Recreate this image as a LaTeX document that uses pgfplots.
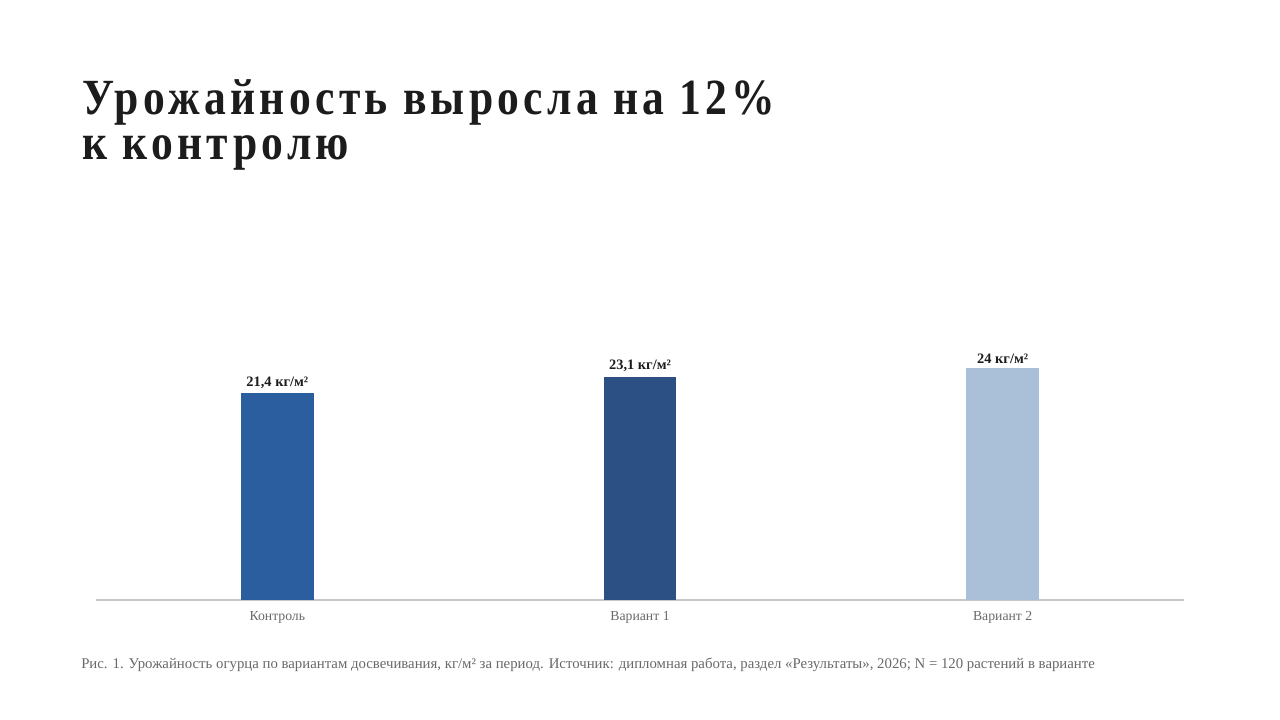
\documentclass[border=0pt]{standalone}
\usepackage{fontspec}
\setmainfont{Liberation Serif}
\newfontfamily\titlefont{Liberation Serif}[FakeStretch=0.86,LetterSpace=8.5]
\usepackage{pgfplots}
\pgfplotsset{compat=1.18}

\definecolor{barA}{RGB}{43,94,159}
\definecolor{barB}{RGB}{44,80,131}
\definecolor{barC}{RGB}{170,192,217}
\definecolor{inkdark}{RGB}{28,28,28}
\definecolor{inkgray}{RGB}{105,105,105}
\definecolor{basegray}{RGB}{200,200,200}

\begin{document}
\begin{tikzpicture}
  % page frame, 1280 x 720 px (1px = 0.75pt)
  \useasboundingbox (0pt,0pt) rectangle (960pt,540pt);
  \fill[white] (0pt,0pt) rectangle (960pt,540pt);

  % title
  \node[anchor=base west, inner sep=0pt, text=inkdark, text depth=0pt,
        font=\titlefont\bfseries\fontsize{38}{38}\selectfont] at (61.5pt,453.75pt) {Урожайность выросла на 12\%};
  \node[anchor=base west, inner sep=0pt, text=inkdark, text height=26pt,
        font=\titlefont\bfseries\fontsize{38}{38}\selectfont] at (61.5pt,420pt) {к контролю};

  \begin{axis}[
      at={(72pt,90pt)}, anchor=south west,
      scale only axis,
      width=816pt, height=217.5pt,
      xmin=-0.5, xmax=2.5,
      ymin=0, ymax=30,
      axis x line=bottom,
      axis y line=none,
      x axis line style={-, draw=basegray, line width=1.5pt},
      xtick={0,1,2},
      xticklabels={Контроль, Вариант 1, Вариант 2},
      xtick style={draw=none},
      xticklabel style={font=\fontsize{10.3}{12}\selectfont, text=inkgray, yshift=-1pt},
      ytick=\empty,
      ybar, bar width=0.2, bar shift=0pt,
      /pgf/number format/assume math mode=true,
      /pgf/number format/use comma,
      nodes near coords={\pgfmathprintnumber{\pgfplotspointmeta}~кг/м²},
      every node near coord/.append style={font=\bfseries\fontsize{10.8}{12}\selectfont, text=inkdark, yshift=0pt},
      clip=false,
    ]
    \addplot[fill=barA, draw=none] coordinates {(0,21.4)};
    \addplot[fill=barB, draw=none] coordinates {(1,23.1)};
    \addplot[fill=barC, draw=none] coordinates {(2,24)};
  \end{axis}

  % caption
  \node[anchor=base west, inner sep=0pt, text=inkgray,
        font=\fontsize{11.1}{13}\selectfont] at (60.75pt,38.25pt)
    {Рис. 1. Урожайность огурца по вариантам досвечивания, кг/м² за период. Источник: дипломная работа, раздел «Результаты», 2026; N = 120 растений в варианте};
\end{tikzpicture}
\end{document}
